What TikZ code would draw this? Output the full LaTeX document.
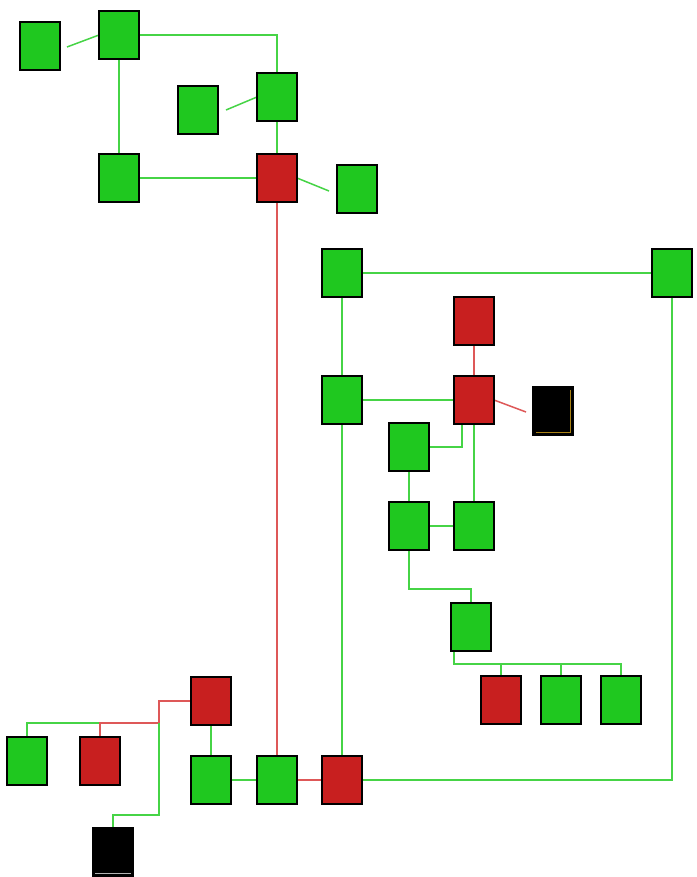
\documentclass[tikz,border=0pt]{standalone}
\begin{document}
\begin{tikzpicture}[x=1pt,y=-1pt,
  box/.style={draw=black,line width=1.6pt,minimum width=40pt,minimum height=48pt,inner sep=0pt,outer sep=0pt},
  gbox/.style={box,fill=gfill},
  rbox/.style={box,fill=rfill},
  kbox/.style={box,fill=black},
  gl/.style={draw=gline,line width=1.5pt},
  rl/.style={draw=rline,line width=1.5pt}]
\definecolor{gfill}{RGB}{31,200,31}
\definecolor{rfill}{RGB}{200,31,31}
\definecolor{gline}{RGB}{70,212,70}
\definecolor{rline}{RGB}{222,88,88}
\useasboundingbox[fill=white] (0,0) rectangle (696,877);
% nodes
\node[gbox] (A) at (40,46) {};
\node[gbox] (B) at (119,35) {};
\node[gbox] (C) at (198,110) {};
\node[gbox] (D) at (277,97) {};
\node[gbox] (E) at (119,178) {};
\node[rbox] (F) at (277,178) {};
\node[gbox] (G) at (357,189) {};
\node[gbox] (H) at (342,273) {};
\node[gbox] (I) at (672,273) {};
\node[rbox] (J) at (474,321) {};
\node[gbox] (K) at (342,400) {};
\node[rbox] (L) at (474,400) {};
\node[kbox] (M) at (553,411) {};
\node[gbox] (N) at (409,447) {};
\node[gbox] (O) at (409,526) {};
\node[gbox] (P) at (474,526) {};
\node[gbox] (R) at (471,627) {};
\node[rbox] (S) at (501,700) {};
\node[gbox] (T) at (561,700) {};
\node[gbox] (U) at (621,700) {};
\node[rbox] (V) at (211,701) {};
\node[gbox] (W) at (27,761) {};
\node[rbox] (X) at (100,761) {};
\node[kbox] (Y) at (113,852) {};
\node[gbox] (Z) at (211,780) {};
\node[gbox] (Q1) at (277,780) {};
\node[rbox] (Q) at (342,780) {};
% free ends and junctions
\coordinate (a1) at (67,47);
\coordinate (c1) at (226,110);
\coordinate (g1) at (329,191);
\coordinate (m1) at (526,412);
\coordinate (bus) at (0,664);
\coordinate (j) at (159,723);
% connectors
\path[gl] (a1) -- (B.west);
\path[gl] (B.east) -| (D.north);
\path[gl] (B) -- (E);
\path[gl] (c1) -- (D.west);
\path[gl] (D) -- (F);
\path[gl] (E) -- (F);
\path[gl] (F.east) -- (g1);
\path[rl] (F.south) -- (Q1.north);
\path[gl] (H) -- (I);
\path[gl] (H) -- (K);
\path[gl] (Q.east) -| (I.south);
\path[rl] (J) -- (L);
\path[gl] (K) -- (L);
\path[rl] (L.east) -- (m1);
\path[gl] ([xshift=-12pt]L.south) |- (N.east);
\path[gl] (L.south) -- (P.north);
\path[gl] (N) -- (O);
\path[gl] (O) -- (P);
\path[gl] (K.south) -- (Q.north);
\path[gl] (O.south) -- ++(0,39) -| (R.north);
\path[gl] ([xshift=-17pt]R.south) |- (bus -| U.north) -- (U.north);
\path[gl] (S.north) -- (S.north |- bus);
\path[gl] (T.north) -- (T.north |- bus);
\path[gl] ([yshift=14pt]X.north) -| (W.north);
\path[rl] (V.west) -| (j) -| (X.north);
\path[gl] (Y.north) -- ++(0,-13) -| (j);
\path[gl] (V) -- (Z);
\path[gl] (Z) -- (Q1);
\path[rl] (Q1) -- (Q);
% redraw boxes on top
\foreach \n/\s in {A/gbox,B/gbox,C/gbox,D/gbox,E/gbox,F/rbox,G/gbox,H/gbox,I/gbox,J/rbox,K/gbox,L/rbox,M/kbox,N/gbox,O/gbox,P/gbox,R/gbox,S/rbox,T/gbox,U/gbox,V/rbox,W/gbox,X/rbox,Y/kbox,Z/gbox,Q1/gbox,Q/rbox}
  \node[\s] at (\n) {};
\draw[color={rgb,255:red,170;green,130;blue,20},line width=0.8pt] ([xshift=-2.5pt,yshift=-3pt]M.north east) -- ([xshift=-2.5pt,yshift=2.5pt]M.south east) -- ([xshift=3pt,yshift=2.5pt]M.south west);
\draw[color=gray!60,line width=0.8pt] ([xshift=2pt,yshift=2.5pt]Y.south west) -- ([xshift=-2pt,yshift=2.5pt]Y.south east);
\end{tikzpicture}
\end{document}
